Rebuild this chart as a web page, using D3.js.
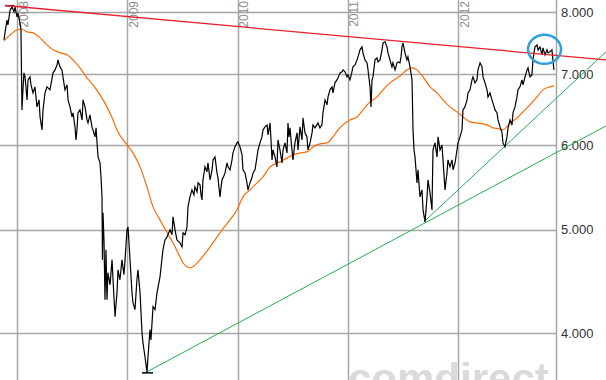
<!DOCTYPE html>
<html>
<head>
<meta charset="utf-8">
<script src="https://cdn.jsdelivr.net/npm/d3@7"></script>
<style>
  body { margin: 0; background: #fff; }
  svg { display: block; }
</style>
</head>
<body>
<script>
const width = 606;
const height = 380;

const years = [2008, 2009, 2010, 2011, 2012];
const priceTicks = [4000, 5000, 6000, 7000, 8000];

// [decimal year, index close]
const dax = [
  [2007.882, 7533], [2007.891, 7647], [2007.909, 7863], [2007.918, 7778], [2007.937, 8035],
  [2007.955, 8087], [2007.973, 8000], [2007.982, 8087], [2008.000, 7914], [2008.009, 7983],
  [2008.027, 7812], [2008.036, 7696], [2008.045, 6476], [2008.054, 6762], [2008.063, 7015],
  [2008.073, 6954], [2008.091, 6617], [2008.100, 6909], [2008.118, 6954], [2008.127, 6835],
  [2008.145, 6718], [2008.163, 6806], [2008.181, 6518], [2008.200, 6617], [2008.209, 6378],
  [2008.227, 6202], [2008.236, 6476], [2008.254, 6718], [2008.272, 6806], [2008.299, 6762],
  [2008.327, 7015], [2008.345, 7060], [2008.363, 7137], [2008.372, 7214], [2008.390, 7106],
  [2008.408, 7060], [2008.417, 6954], [2008.435, 6762], [2008.454, 6835], [2008.463, 6617],
  [2008.481, 6518], [2008.499, 6378], [2008.508, 6434], [2008.526, 6242], [2008.535, 6069],
  [2008.544, 6202], [2008.553, 6434], [2008.571, 6476], [2008.590, 6337], [2008.599, 6617],
  [2008.617, 6518], [2008.635, 6337], [2008.644, 6296], [2008.662, 6406], [2008.680, 6242],
  [2008.689, 6202], [2008.707, 6109], [2008.717, 6229], [2008.726, 6030], [2008.735, 5851],
  [2008.753, 5775], [2008.762, 5604], [2008.771, 5367], [2008.775, 4685], [2008.780, 5185],
  [2008.789, 4891], [2008.798, 4298], [2008.807, 4787], [2008.816, 4298], [2008.825, 4556],
  [2008.844, 4439], [2008.862, 4685], [2008.871, 4487], [2008.889, 4144], [2008.907, 4364],
  [2008.916, 4585], [2008.934, 4487], [2008.952, 4685], [2008.970, 4537], [2008.980, 4685],
  [2008.989, 4839], [2008.998, 4998], [2009.007, 5030], [2009.025, 4685], [2009.043, 4364],
  [2009.052, 4271], [2009.070, 4207], [2009.088, 4487], [2009.097, 4585], [2009.116, 4364],
  [2009.134, 4000], [2009.143, 3914], [2009.161, 3798], [2009.179, 3677], [2009.188, 3798],
  [2009.206, 4030], [2009.215, 3940], [2009.234, 4234], [2009.252, 4207], [2009.270, 4364],
  [2009.297, 4516], [2009.324, 4787], [2009.342, 4891], [2009.361, 4923], [2009.388, 4998],
  [2009.406, 4945], [2009.415, 5140], [2009.433, 4998], [2009.451, 4891], [2009.478, 4860],
  [2009.497, 4818], [2009.506, 4966], [2009.524, 4945], [2009.542, 5030], [2009.551, 5252],
  [2009.569, 5367], [2009.587, 5449], [2009.605, 5391], [2009.614, 5484], [2009.633, 5426],
  [2009.642, 5532], [2009.660, 5508], [2009.669, 5391], [2009.678, 5332], [2009.687, 5567],
  [2009.705, 5726], [2009.723, 5665], [2009.732, 5775], [2009.751, 5567], [2009.769, 5689],
  [2009.778, 5813], [2009.796, 5851], [2009.814, 5652], [2009.823, 5592], [2009.841, 5367],
  [2009.859, 5567], [2009.877, 5616], [2009.887, 5652], [2009.905, 5775], [2009.914, 5726],
  [2009.932, 5689], [2009.950, 5813], [2009.959, 5901], [2009.977, 5978], [2009.995, 6030],
  [2010.004, 6043], [2010.023, 5978], [2010.041, 5876], [2010.050, 5689], [2010.068, 5652],
  [2010.086, 5532], [2010.095, 5449], [2010.113, 5532], [2010.131, 5592], [2010.141, 5652],
  [2010.159, 5689], [2010.177, 5851], [2010.186, 5940], [2010.204, 6030], [2010.222, 6109],
  [2010.231, 6202], [2010.249, 6242], [2010.268, 6269], [2010.277, 6135], [2010.295, 6296],
  [2010.304, 6069], [2010.313, 5813], [2010.322, 5940], [2010.340, 5851], [2010.358, 5726],
  [2010.367, 6069], [2010.385, 5940], [2010.404, 5775], [2010.413, 5940], [2010.431, 6030],
  [2010.449, 5901], [2010.458, 6296], [2010.467, 6109], [2010.476, 6229], [2010.494, 5940],
  [2010.503, 5813], [2010.521, 6030], [2010.540, 6162], [2010.549, 5940], [2010.567, 6242],
  [2010.585, 6069], [2010.594, 6364], [2010.612, 6162], [2010.630, 6109], [2010.639, 5940],
  [2010.658, 6030], [2010.676, 6162], [2010.685, 6269], [2010.703, 6229], [2010.730, 6296],
  [2010.748, 6229], [2010.766, 6269], [2010.775, 6434], [2010.794, 6617], [2010.812, 6546],
  [2010.821, 6660], [2010.839, 6762], [2010.857, 6806], [2010.866, 6718], [2010.884, 6865],
  [2010.902, 6909], [2010.911, 6939], [2010.930, 7015], [2010.948, 7030], [2010.957, 7060],
  [2010.975, 7030], [2010.993, 6954], [2011.002, 6984], [2011.020, 6909], [2011.038, 7030],
  [2011.047, 7106], [2011.066, 7137], [2011.084, 7214], [2011.093, 7261], [2011.111, 7372],
  [2011.129, 7420], [2011.138, 7324], [2011.156, 7214], [2011.175, 7168], [2011.184, 7060],
  [2011.202, 6806], [2011.211, 6518], [2011.220, 6909], [2011.229, 6954], [2011.247, 7214],
  [2011.265, 7245], [2011.274, 7183], [2011.293, 7214], [2011.311, 7372], [2011.320, 7484],
  [2011.338, 7501], [2011.356, 7420], [2011.365, 7324], [2011.383, 7214], [2011.401, 7106],
  [2011.410, 7168], [2011.429, 7060], [2011.447, 7168], [2011.456, 7183], [2011.474, 7168],
  [2011.483, 7261], [2011.492, 7420], [2011.501, 7484], [2011.519, 7324], [2011.537, 7214],
  [2011.546, 7261], [2011.565, 7106], [2011.583, 6909], [2011.592, 6202], [2011.601, 5940],
  [2011.610, 5851], [2011.628, 5532], [2011.637, 5689], [2011.655, 5367], [2011.673, 5449],
  [2011.683, 5218], [2011.701, 5085], [2011.719, 5367], [2011.728, 5567], [2011.746, 5414],
  [2011.764, 5218], [2011.773, 5940], [2011.791, 6030], [2011.810, 5851], [2011.819, 6109],
  [2011.837, 5940], [2011.855, 6004], [2011.864, 5813], [2011.882, 5449], [2011.900, 5652],
  [2011.909, 5813], [2011.927, 5726], [2011.946, 5813], [2011.955, 5689], [2011.973, 5775],
  [2011.991, 5940], [2012.000, 6030], [2012.018, 6109], [2012.036, 6202], [2012.045, 6476],
  [2012.063, 6518], [2012.082, 6617], [2012.091, 6718], [2012.109, 6762], [2012.127, 6909],
  [2012.136, 6954], [2012.154, 6865], [2012.172, 6909], [2012.181, 7060], [2012.200, 7168],
  [2012.218, 7106], [2012.227, 6954], [2012.245, 6865], [2012.263, 6762], [2012.272, 6660],
  [2012.290, 6718], [2012.308, 6617], [2012.317, 6574], [2012.336, 6476], [2012.354, 6434],
  [2012.363, 6337], [2012.381, 6242], [2012.399, 6162], [2012.408, 6030], [2012.426, 5978],
  [2012.444, 6109], [2012.454, 6229], [2012.472, 6337], [2012.490, 6269], [2012.499, 6434],
  [2012.517, 6518], [2012.535, 6660], [2012.544, 6762], [2012.562, 6806], [2012.580, 6909],
  [2012.590, 6835], [2012.608, 6954], [2012.626, 7060], [2012.635, 7091], [2012.653, 6954],
  [2012.671, 6984], [2012.680, 7214], [2012.698, 7420], [2012.717, 7452], [2012.726, 7372],
  [2012.744, 7420], [2012.762, 7293], [2012.771, 7404], [2012.789, 7293], [2012.807, 7372],
  [2012.816, 7324], [2012.834, 7340], [2012.852, 7372], [2012.861, 7214], [2012.870, 7060]
];

// 200-day moving average
const sma200 = [
  [2007.882, 7517], [2007.937, 7614], [2008.000, 7696], [2008.045, 7712], [2008.091, 7663],
  [2008.145, 7647], [2008.209, 7565], [2008.272, 7452], [2008.327, 7372], [2008.390, 7324],
  [2008.454, 7293], [2008.508, 7214], [2008.571, 7091], [2008.635, 6939], [2008.689, 6835],
  [2008.753, 6689], [2008.816, 6518], [2008.871, 6337], [2008.907, 6202], [2008.998, 6004],
  [2009.052, 5901], [2009.116, 5726], [2009.179, 5484], [2009.234, 5252], [2009.297, 5107],
  [2009.361, 4966], [2009.415, 4860], [2009.478, 4715], [2009.506, 4655], [2009.542, 4615],
  [2009.569, 4605], [2009.596, 4615], [2009.660, 4685], [2009.751, 4818], [2009.841, 4966],
  [2009.932, 5107], [2009.995, 5218], [2010.023, 5296], [2010.050, 5367], [2010.113, 5449],
  [2010.177, 5532], [2010.231, 5604], [2010.295, 5726], [2010.322, 5751], [2010.385, 5788],
  [2010.449, 5838], [2010.503, 5876], [2010.567, 5901], [2010.630, 5914], [2010.685, 5978],
  [2010.748, 6017], [2010.812, 6030], [2010.866, 6109], [2010.911, 6202], [2010.957, 6269],
  [2011.020, 6337], [2011.084, 6378], [2011.138, 6476], [2011.202, 6588], [2011.265, 6660],
  [2011.320, 6762], [2011.383, 6865], [2011.447, 6939], [2011.474, 6969], [2011.537, 7060],
  [2011.583, 7091], [2011.628, 7060], [2011.683, 6954], [2011.746, 6806], [2011.810, 6718],
  [2011.864, 6617], [2011.927, 6518], [2011.991, 6448], [2012.045, 6378], [2012.109, 6310],
  [2012.172, 6296], [2012.263, 6269], [2012.317, 6229], [2012.381, 6215], [2012.408, 6202],
  [2012.472, 6296], [2012.535, 6364], [2012.590, 6448], [2012.653, 6546], [2012.717, 6660],
  [2012.771, 6762], [2012.834, 6806], [2012.870, 6821]
];

// trend lines (start, end)
const resistance = [[2007.891, 8113], [2013.342, 7214]];
const supportLong = [[2009.161, 3670], [2013.342, 6255]];
const supportShort = [[2011.691, 5085], [2013.342, 7340]];

// high / low markers and highlighted zone
const highMark = [[2007.891, 8110], [2007.973, 8110]];
const lowMark = [[2009.134, 3670], [2009.234, 3670]];
const highlight = [2012.785, 7380];

const x = d3.scaleLinear().domain([2008, 2012]).range([17, 458]);
const y = d3.scaleLog().domain([4000, 8000]).range([333, 12]);
const plotRight = 556;

const de = d3.formatLocale({ decimal: ",", thousands: ".", grouping: [3], currency: ["", " €"] });
const fmt = de.format(",");

const svg = d3.select("body")
  .append("svg")
  .attr("width", width)
  .attr("height", height);

// grid
svg.append("g")
  .selectAll("line")
  .data(priceTicks)
  .join("line")
  .attr("x1", 0)
  .attr("x2", plotRight)
  .attr("y1", d => Math.round(y(d)) + 0.5)
  .attr("y2", d => Math.round(y(d)) + 0.5)
  .attr("stroke", "#a6a6a6")
  .attr("stroke-width", 1.5);

svg.append("g")
  .selectAll("line")
  .data(years)
  .join("line")
  .attr("x1", d => Math.round(x(d)) + 0.5)
  .attr("x2", d => Math.round(x(d)) + 0.5)
  .attr("y1", 0)
  .attr("y2", height)
  .attr("stroke", "#a6a6a6")
  .attr("stroke-width", 1.5);

svg.append("line")
  .attr("x1", plotRight + 0.5)
  .attr("x2", plotRight + 0.5)
  .attr("y1", 0)
  .attr("y2", height)
  .attr("stroke", "#a6a6a6")
  .attr("stroke-width", 1.5);

// year labels
svg.append("g")
  .selectAll("text")
  .data(years)
  .join("text")
  .attr("transform", d => `translate(${x(d) + 10.5}, 1) rotate(-90)`)
  .attr("text-anchor", "end")
  .attr("font-family", "Liberation Sans, Arial, sans-serif")
  .attr("font-size", 12)
  .attr("fill", "#8c8c8c")
  .text(d => d);

// price labels
svg.append("g")
  .selectAll("text")
  .data(priceTicks)
  .join("text")
  .attr("x", 561)
  .attr("y", d => y(d))
  .attr("dy", "0.36em")
  .attr("font-family", "Liberation Sans, Arial, sans-serif")
  .attr("font-size", 13)
  .attr("fill", "#333")
  .text(d => fmt(d));

// watermark
svg.append("text")
  .attr("x", 348)
  .attr("y", 393)
  .attr("font-family", "Liberation Sans, Arial, sans-serif")
  .attr("font-weight", "bold")
  .attr("font-size", 42)
  .attr("fill", "#dadada")
  .text("comdirect");

const line = d3.line()
  .x(d => x(d[0]))
  .y(d => y(d[1]));

svg.append("path")
  .datum(supportLong)
  .attr("d", line)
  .attr("fill", "none")
  .attr("stroke", "#22b14c")
  .attr("stroke-width", 1);

svg.append("path")
  .datum(supportShort)
  .attr("d", line)
  .attr("fill", "none")
  .attr("stroke", "#22b14c")
  .attr("stroke-width", 1);

svg.append("path")
  .datum(sma200)
  .attr("d", line.curve(d3.curveMonotoneX))
  .attr("fill", "none")
  .attr("stroke", "#ff6a00")
  .attr("stroke-width", 1.2);

line.curve(d3.curveLinear);

svg.append("path")
  .datum(dax)
  .attr("d", line)
  .attr("fill", "none")
  .attr("stroke", "#000")
  .attr("stroke-width", 1.2);

svg.append("path")
  .datum(highMark)
  .attr("d", line)
  .attr("stroke", "#000")
  .attr("stroke-width", 1.5);

svg.append("path")
  .datum(lowMark)
  .attr("d", line)
  .attr("stroke", "#000")
  .attr("stroke-width", 1.5);

svg.append("path")
  .datum(resistance)
  .attr("d", line)
  .attr("fill", "none")
  .attr("stroke", "#e8202a")
  .attr("stroke-width", 1.3);

svg.append("ellipse")
  .attr("cx", x(highlight[0]))
  .attr("cy", y(highlight[1]))
  .attr("rx", 16.5)
  .attr("ry", 14.5)
  .attr("fill", "none")
  .attr("stroke", "#2a9fd8")
  .attr("stroke-width", 2.5);
</script>
</body>
</html>
